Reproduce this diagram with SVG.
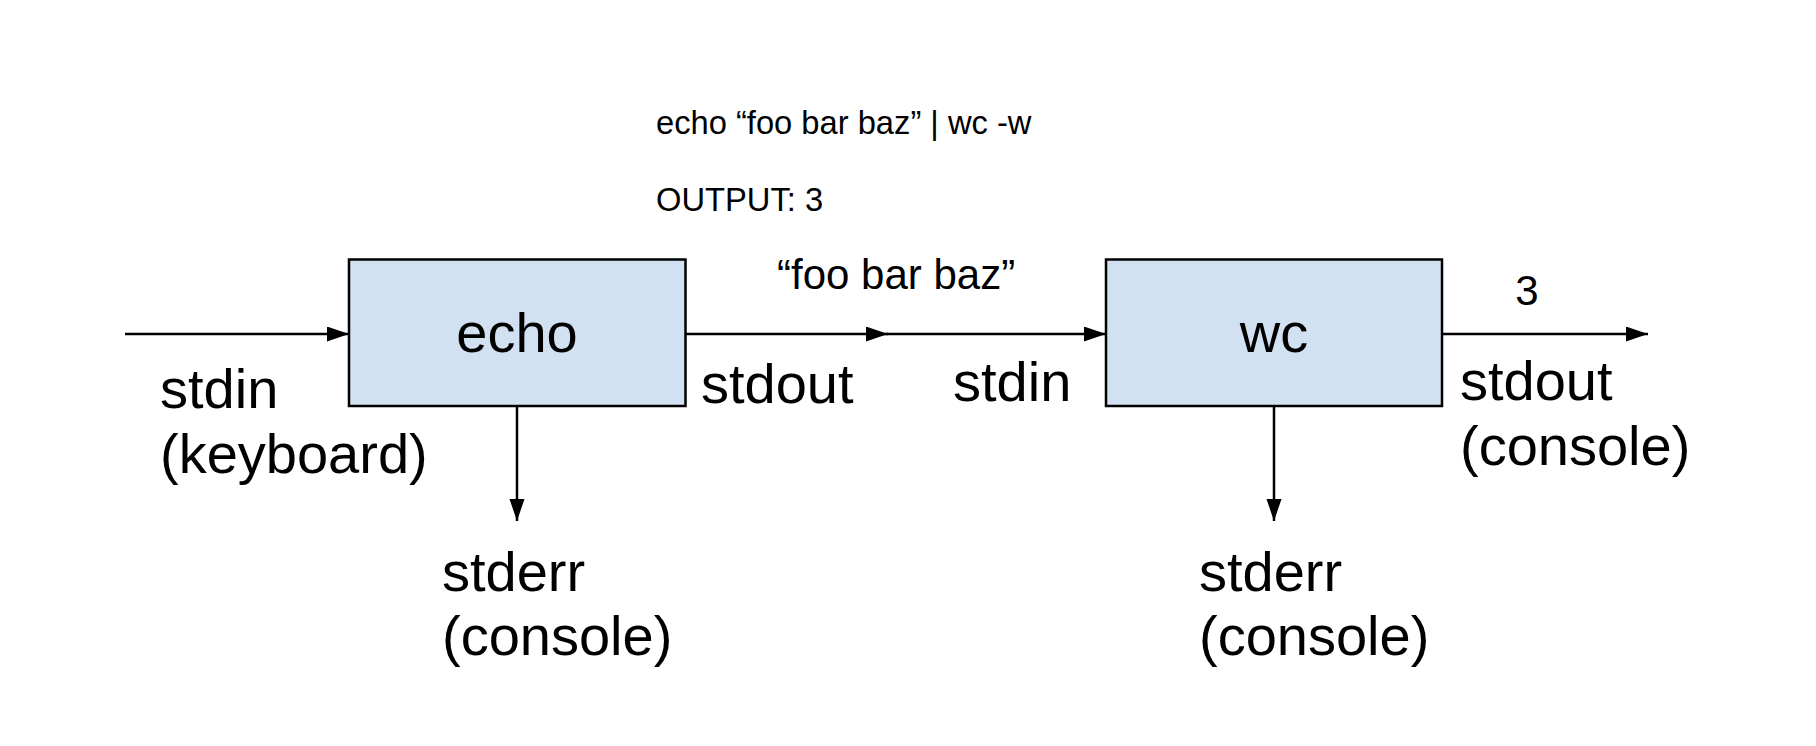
<svg xmlns="http://www.w3.org/2000/svg" width="1816" height="746" viewBox="0 0 1816 746">
<style>
.box{fill:#d2e1f1;stroke:#000;stroke-width:2.5}
.t{font-family:"Liberation Sans",Arial,sans-serif;fill:#000}
.big{font-size:56px}
.mid{font-size:42px}
.sm{font-size:32.7px}
.conn{stroke:#000;stroke-width:2.5;fill:none;marker-end:url(#ah)}
</style>
<defs>
<marker id="ah" markerUnits="userSpaceOnUse" markerWidth="24" markerHeight="16" refX="22" refY="7.5" orient="auto">
<path d="M0,0 L22,7.5 L0,15 z" fill="#000"/>
</marker>
</defs>
<rect width="1816" height="746" fill="#fff"/>
<g id="title">
<text class="t sm" x="656" y="134">echo “foo bar baz” | wc -w</text>
<text class="t sm" x="656" y="211">OUTPUT: 3</text>
</g>
<g id="echo">
<rect class="box" x="349" y="259.5" width="336.5" height="146.5"/>
<text class="t big" x="517" y="352" text-anchor="middle">echo</text>
</g>
<g id="wc">
<rect class="box" x="1106" y="259.5" width="336" height="146.5"/>
<text class="t big" x="1274" y="352" text-anchor="middle">wc</text>
</g>
<g id="connectors">
<line class="conn" x1="125" y1="334" x2="349" y2="334"/>
<line class="conn" x1="685.5" y1="334" x2="888" y2="334"/>
<line class="conn" x1="886" y1="334" x2="1106" y2="334"/>
<line class="conn" x1="1442" y1="334" x2="1648" y2="334"/>
<line class="conn" x1="517" y1="406" x2="517" y2="521"/>
<line class="conn" x1="1274" y1="406" x2="1274" y2="521"/>
</g>
<g id="labels">
<text class="t big" x="160" y="407.5">stdin</text>
<text class="t big" x="160" y="473">(keyboard)</text>
<text class="t big" x="701" y="402.5">stdout</text>
<text class="t mid" x="777" y="289">“foo bar baz”</text>
<text class="t big" x="953" y="401">stdin</text>
<text class="t mid" x="1527" y="305" text-anchor="middle">3</text>
<text class="t big" x="1460" y="400">stdout</text>
<text class="t big" x="1460" y="465">(console)</text>
<text class="t big" x="442" y="590.5">stderr</text>
<text class="t big" x="442" y="655">(console)</text>
<text class="t big" x="1199" y="590.5">stderr</text>
<text class="t big" x="1199" y="655">(console)</text>
</g>
</svg>
